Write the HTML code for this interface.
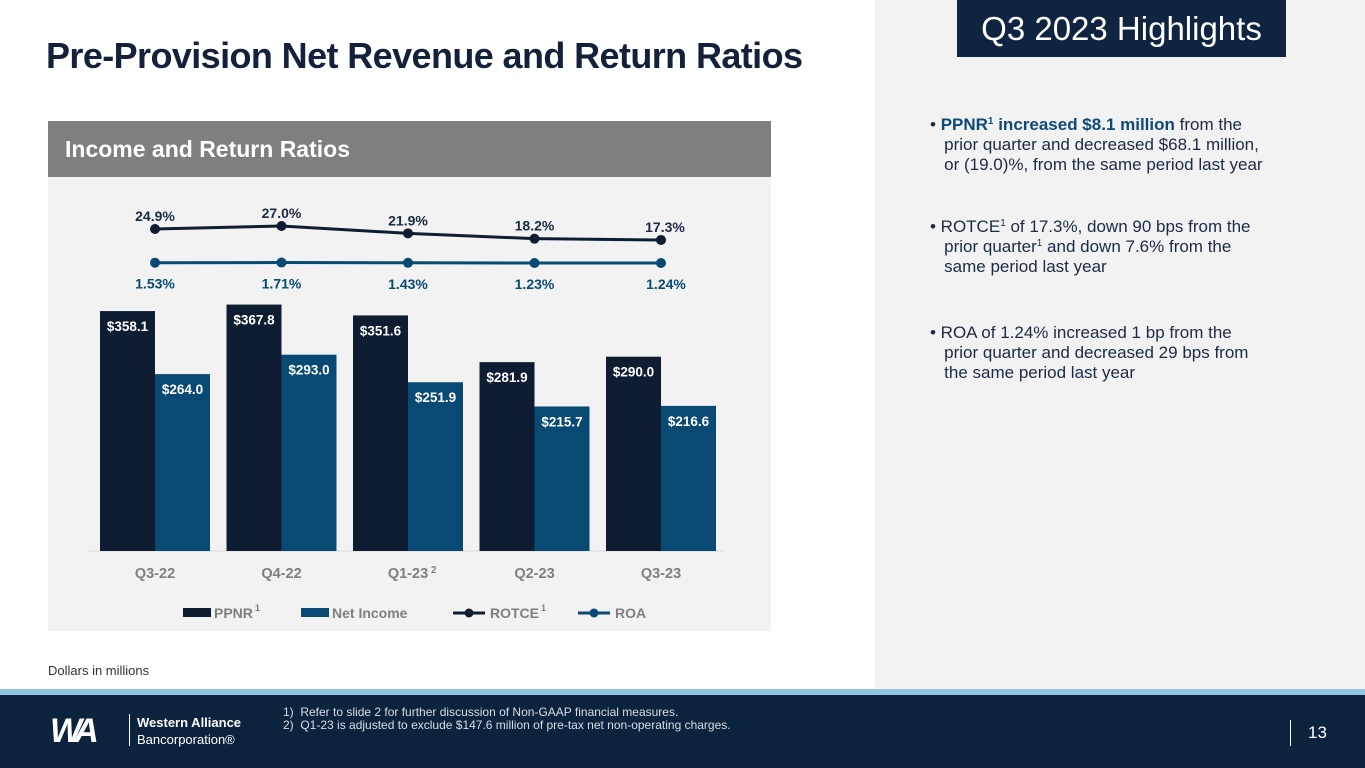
<!DOCTYPE html>
<html><head><meta charset="utf-8"><style>
body{margin:0;width:1365px;height:768px;position:relative;overflow:hidden;background:#fff;font-family:"Liberation Sans",sans-serif}
div{position:absolute}
.b{color:#1a2b45;font-size:17px;line-height:20px}
sup{font-size:10px;line-height:0;vertical-align:6px}
</style></head><body>
<div style="left:46px;top:35px;font-size:36px;font-weight:bold;color:#13213a;letter-spacing:-0.6px">Pre-Provision Net Revenue and Return Ratios</div>
<div style="left:875px;top:0;width:490px;height:690px;background:#f2f2f2"></div>
<div style="left:957px;top:0;width:329px;height:57px;background:#0f2440;color:#fff;font-size:33px;line-height:57px;text-align:center">Q3 2023 Highlights</div>
<div class="b" style="left:930px;top:115px;width:380px">• <b style="color:#0d4a7a">PPNR<sup>1</sup> increased $8.1 million</b> from the<br>&nbsp;&nbsp;&nbsp;prior quarter and decreased $68.1 million,<br>&nbsp;&nbsp;&nbsp;or (19.0)%, from the same period last year</div>
<div class="b" style="left:930px;top:217px;width:380px">• ROTCE<sup>1</sup> of 17.3%, down 90 bps from the<br>&nbsp;&nbsp;&nbsp;prior quarter<sup>1</sup> and down 7.6% from the<br>&nbsp;&nbsp;&nbsp;same period last year</div>
<div class="b" style="left:930px;top:323px;width:380px">• ROA of 1.24% increased 1 bp from the<br>&nbsp;&nbsp;&nbsp;prior quarter and decreased 29 bps from<br>&nbsp;&nbsp;&nbsp;the same period last year</div>
<div style="left:48px;top:121px;width:723px;height:56px;background:#7f7f7f;color:#fff;font-size:23px;font-weight:bold;line-height:56px;box-sizing:border-box;padding-left:17px">Income and Return Ratios</div>
<svg style="position:absolute;left:48px;top:177px" width="723" height="454" id="chart"></svg>
<div style="left:48px;top:663px;font-size:13px;color:#333">Dollars in millions</div>
<div style="left:0;top:689px;width:1365px;height:6px;background:#8fc4e3"></div>
<div style="left:0;top:695px;width:1365px;height:73px;background:#0b233d"></div>
<div style="left:50px;top:712px;color:#fff;font-size:34px;font-weight:bold;font-style:italic;letter-spacing:-6px">WA</div>
<div style="left:129px;top:714px;width:1px;height:32px;background:#fff"></div>
<div style="left:137px;top:714px;color:#fff;font-size:13px;line-height:17px"><b>Western Alliance</b><br>Bancorporation®</div>
<div style="left:283px;top:706px;color:#d8dee6;font-size:12px;line-height:13px">1)&nbsp; Refer to slide 2 for further discussion of Non-GAAP financial measures.<br>2)&nbsp; Q1-23 is adjusted to exclude $147.6 million of pre-tax net non-operating charges.</div>
<div style="left:1290px;top:720px;width:1px;height:26px;background:#fff"></div>
<div style="left:1308px;top:723px;color:#fff;font-size:17px">13</div>
<script>
const categories=["Q3-22","Q4-22","Q1-23","Q2-23","Q3-23"];
const catSup=["","","2","",""];
const ppnr=[358.1,367.8,351.6,281.9,290.0];
const netIncome=[264.0,293.0,251.9,215.7,216.6];
const rotce=[24.9,27.0,21.9,18.2,17.3];
const roa=[1.53,1.71,1.43,1.23,1.24];
const svg=document.getElementById('chart');
const NS='http://www.w3.org/2000/svg';
const base=374, barScale=0.67, barW=55;
const cx=i=>107+i*126.5;
const yR=v=>49+(27-v)*1.44;
const yA=v=>86-(v-1.24)*1;
function mk(t,a,txt){const e=document.createElementNS(NS,t);for(const k in a)e.setAttribute(k,a[k]);if(txt!==undefined)e.textContent=txt;svg.appendChild(e);return e;}
const bg=mk('rect',{x:0,y:0,width:723,height:454,fill:'#f2f2f2'});


const ax=mk('line',{x1:40,x2:676,y1:base,y2:base,stroke:'#d9d9d9'});


categories.forEach((c,i)=>{
  const x=cx(i);
  const h1=ppnr[i]*barScale,h2=netIncome[i]*barScale;
  const r1=mk('rect',{x:x-barW,y:base-h1,width:barW,height:h1,fill:'#0f1d33'});
  
  
  const r2=mk('rect',{x:x,y:base-h2,width:barW,height:h2,fill:'#084a74'});
  
  
  const t1=mk('text',{x:x-barW/2,y:base-h1+20,'text-anchor':'middle',fill:'#fff','font-size':13.5,'font-weight':'bold'},'$'+ppnr[i].toFixed(1));
  
  
  const t2=mk('text',{x:x+barW/2,y:base-h2+20,'text-anchor':'middle',fill:'#fff','font-size':13.5,'font-weight':'bold'},'$'+netIncome[i].toFixed(1));
  
  
  const tc=mk('text',{x:x,y:401,'text-anchor':'middle',fill:'#7f7f7f','font-size':14.5,'font-weight':'bold'},c);
  
  
  if(catSup[i]){const s=mk('text',{x:x+23,y:396,fill:'#7f7f7f','font-size':10,'font-weight':'bold'},catSup[i]);}
});
const lr=mk('polyline',{points:rotce.map((v,i)=>cx(i)+','+yR(v)).join(' '),fill:'none',stroke:'#0f1d33','stroke-width':3});


const la=mk('polyline',{points:roa.map((v,i)=>cx(i)+','+yA(v)).join(' '),fill:'none',stroke:'#084a74','stroke-width':3});


rotce.forEach((v,i)=>{
  const p=mk('circle',{cx:cx(i),cy:yR(v),r:5,fill:'#0f1d33'});
  
  
  const t=mk('text',{x:cx(i)+(i===4?4:0),y:yR(v)-8,'text-anchor':'middle',fill:'#1a2b45','font-size':14,'font-weight':'bold'},v.toFixed(1)+'%');
  
  
});
roa.forEach((v,i)=>{
  const p=mk('circle',{cx:cx(i),cy:yA(v),r:5,fill:'#084a74'});
  
  
  const t=mk('text',{x:cx(i)+(i===4?5:0),y:yA(v)+26,'text-anchor':'middle',fill:'#084a74','font-size':14,'font-weight':'bold'},v.toFixed(2)+'%');
  
  
});
const legend=[['PPNR','1','bar','#0f1d33',135],['Net Income','','bar','#084a74',253],['ROTCE','1','line','#0f1d33',405],['ROA','','line','#084a74',530]];
legend.forEach(l=>{
  const x=l[4];
  let m;
  if(l[2]==='bar') m=mk('rect',{x:x,y:431,width:28,height:9,fill:l[3]});
  else {m=mk('line',{x1:x,x2:x+32,y1:436,y2:436,stroke:l[3],'stroke-width':3});mk('circle',{cx:x+16,cy:436,r:4.5,fill:l[3]});}
  
  
  const t=mk('text',{x:x+(l[2]==='bar'?31:37),y:441,fill:'#7f7f7f','font-size':14,'font-weight':'bold'},l[0]);
  
  
  if(l[1]){const s=mk('text',{x:x+(l[2]==='bar'?31:37)+t.getComputedTextLength()+2,y:434,fill:'#7f7f7f','font-size':9,'font-weight':'bold'},l[1]);}
});
</script>
</body></html>
